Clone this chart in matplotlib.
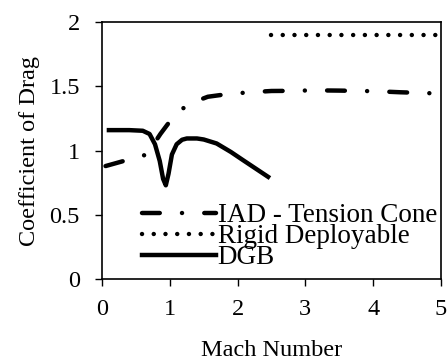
import numpy as np
import matplotlib.pyplot as plt

plt.rcParams['font.family'] = ['Liberation Serif', 'DejaVu Serif']
plt.rcParams['font.size'] = 17.5

# IAD - Tension Cone
iad_mach = [0.05, 0.66, 0.86, 1.03, 1.26, 1.56, 1.84, 2.18, 2.5, 2.8, 3.11, 3.5, 4.05, 4.4, 4.7, 5.0]
iad_cd = [0.88, 0.97, 1.13, 1.25, 1.36, 1.42, 1.44, 1.455, 1.465, 1.466, 1.47, 1.468, 1.463, 1.455, 1.45, 1.445]

# Rigid Deployable
rigid_mach = [2.5, 5.0]
rigid_cd = [1.9, 1.9]

# DGB
dgb_mach = [0.1, 0.4, 0.6, 0.7, 0.78, 0.85, 0.9, 0.94, 0.98, 1.03, 1.1, 1.18, 1.25, 1.4, 1.5, 1.69, 1.9, 2.08, 2.45]
dgb_cd = [1.16, 1.16, 1.155, 1.13, 1.05, 0.92, 0.78, 0.73, 0.82, 0.97, 1.05, 1.085, 1.095, 1.095, 1.087, 1.056, 0.99, 0.926, 0.796]

fig, ax = plt.subplots(figsize=(4.48, 3.6), dpi=100)
fig.subplots_adjust(left=0.228, right=0.984, top=0.938, bottom=0.225)

lw = 3.2
ax.plot(iad_mach, iad_cd, color='black', lw=lw, linestyle=(0, (4.0, 5.0, 0.01, 5.0)),
        dash_capstyle='round', label='IAD - Tension Cone')
ax.plot(rigid_mach, rigid_cd, color='black', lw=lw, linestyle=(0, (0.01, 2.63)),
        dash_capstyle='round', label='Rigid Deployable')
ax.plot(dgb_mach, dgb_cd, color='black', lw=lw, label='DGB')

ax.set_xlim(0, 5)
ax.set_ylim(0, 2)
ax.set_xticks([0, 1, 2, 3, 4, 5])
ax.set_yticks([0, 0.5, 1, 1.5, 2])
ax.set_yticklabels(['0', '0.5', '1', '1.5', '2'])
ax.tick_params(direction='out', length=5, width=1)
ax.tick_params(axis='x', pad=9.5)
ax.tick_params(axis='y', pad=11)
for s in ax.spines.values():
    s.set_linewidth(1.2)

ax.set_xlabel('Mach Number', labelpad=14)
ax.set_ylabel('Coefficient of Drag', labelpad=7)

ax.legend(loc='lower right', bbox_to_anchor=(1.045, -0.04), frameon=False, fontsize=19.5,
          handlelength=2.74, handletextpad=0.05, labelspacing=-0.15, borderpad=0.2)

fig.savefig('out.png', dpi=100)
